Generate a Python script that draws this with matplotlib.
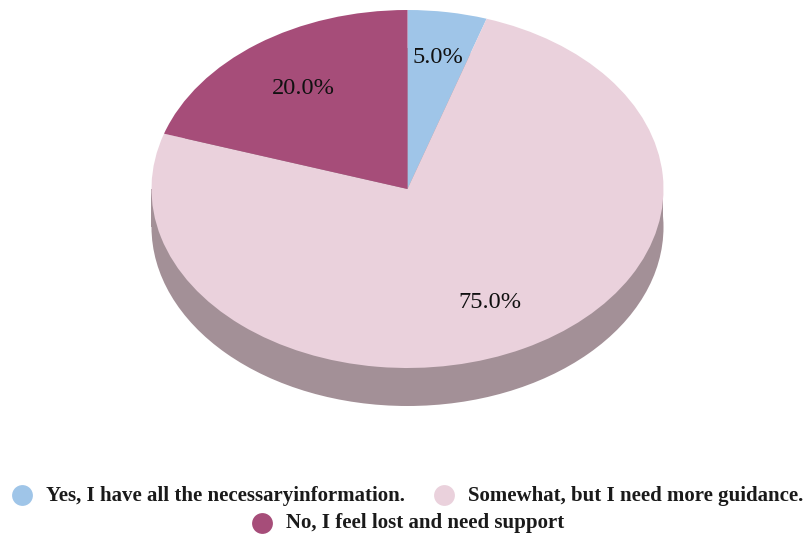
import numpy as np
import matplotlib
matplotlib.use("Agg")
import matplotlib.pyplot as plt
from matplotlib.patches import Wedge, Ellipse, Rectangle
from matplotlib.transforms import Affine2D

labels = ["Yes, I have all the necessaryinformation.", "Somewhat, but I need more guidance.", "No, I feel lost and need support"]
values = [5.0, 75.0, 20.0]
pct_labels = ["5.0%", "75.0%", "20.0%"]
colors = ["#9fc5e8", "#ead1dc", "#a64d79"]
side_color = "#a39097"

plt.rcParams['font.family'] = ['Liberation Serif']
fig = plt.figure(figsize=(8.04, 5.36), dpi=100)
ax = fig.add_axes([0, 0, 1, 1])
ax.set_xlim(0, 804); ax.set_ylim(536, 0); ax.axis('off')

cx, cy, rx, ry, depth = 407.5, 189, 256, 179, 38
ax.add_patch(Ellipse((cx, cy + depth), 2*rx, 2*ry, color=side_color, lw=0))
ax.add_patch(Rectangle((cx-rx, cy), 2*rx, depth, color=side_color, lw=0))

start = 90.0
scale = Affine2D().translate(-cx, -cy).scale(1, ry/rx).translate(cx, cy)
ang = start
for v, c in zip(values, colors):
    sweep = v/100*360
    th1 = -ang
    th2 = -ang + sweep
    w = Wedge((cx, cy), rx, th1, th2, color=c, lw=0)
    w.set_transform(scale + ax.transData)
    ax.add_patch(w)
    ang -= sweep

label_pos = [(438, 57.5), (490, 302.5), (303, 88.5)]
for t, (x, y) in zip(pct_labels, label_pos):
    ax.text(x, y, t, fontsize=17.6, ha='center', va='center', color='#111111')

def leg(x, y, c, t):
    ax.plot([x], [y], marker='o', ms=15, color=c, mec='none')
    ax.text(x+24, y+0.5, t, fontsize=15, fontweight='bold', ha='left', va='center', color='#1a1a1a')

leg(22, 495, colors[0], labels[0])
leg(444, 495, colors[1], labels[1])
leg(262, 522.5, colors[2], labels[2])

fig.savefig("out.png", dpi=100)
